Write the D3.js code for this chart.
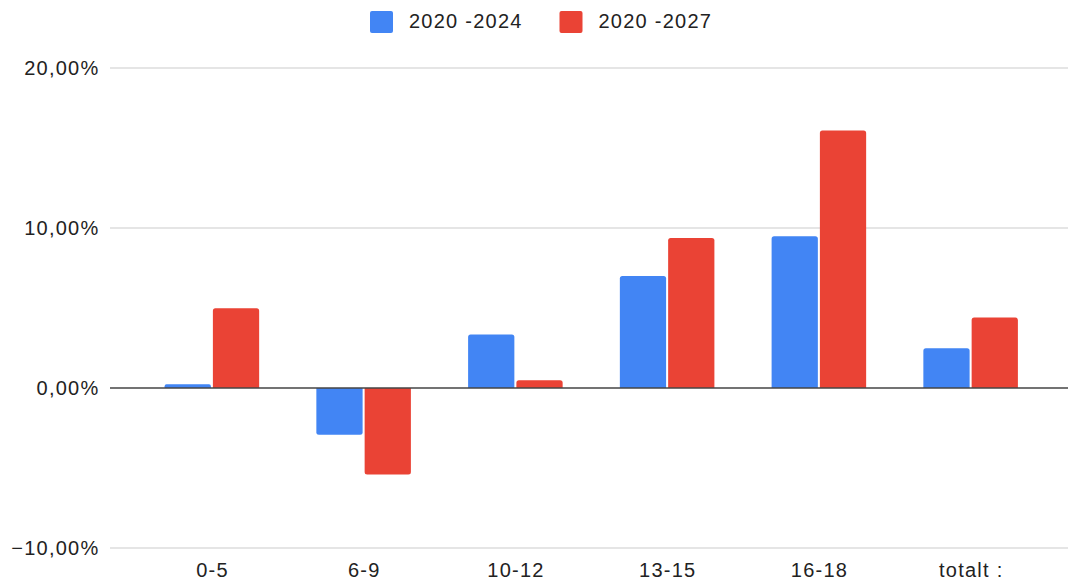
<!DOCTYPE html>
<html>
<head>
<meta charset="utf-8">
<script src="https://cdn.jsdelivr.net/npm/d3@7"></script>
<style>
  html, body { margin: 0; padding: 0; background: #fff; }
  svg { display: block; font-family: "Liberation Sans", Arial, sans-serif; }
  svg text { letter-spacing: 1.25px; }
</style>
</head>
<body>
<svg id="chart" width="1068" height="582"></svg>
<script>
// Age groups and percentage change per period
const categories = ["0-5", "6-9", "10-12", "13-15", "16-18", "totalt :"];
const seriesNames = ["2020 -2024", "2020 -2027"];
const change2024 = [0.0023, -0.0292, 0.0335, 0.0700, 0.0948, 0.0248];
const change2027 = [0.0498, -0.0540, 0.0048, 0.09375, 0.1610, 0.0440];
const yTicks = [-0.10, 0, 0.10, 0.20];
const colors = ["#4285F4", "#EA4335"];

const svg = d3.select("#chart");

const locale = d3.formatLocale({
  decimal: ",", thousands: " ", grouping: [3],
  currency: ["", " kr"], minus: "\u2212", percent: "%"
});
const pct = locale.format(".2%");

const gridLeft = 110, gridRight = 1068;

const y = d3.scaleLinear().domain([-0.10, 0.20]).range([548, 68]);

const x0 = d3.scaleBand()
  .domain(categories)
  .range([136, 1046.5])
  .paddingInner(0.377)
  .paddingOuter(0.1885);

const x1 = d3.scaleBand()
  .domain(seriesNames)
  .range([0, x0.bandwidth()])
  .paddingInner(0.042);

// Horizontal gridlines
svg.append("g")
  .selectAll("line")
  .data(yTicks.filter(d => d !== 0))
  .join("line")
  .attr("x1", gridLeft).attr("x2", gridRight)
  .attr("y1", d => y(d)).attr("y2", d => y(d))
  .attr("stroke", "#cccccc").attr("stroke-width", 1.2);

// Y tick labels
svg.append("g")
  .selectAll("text")
  .data(yTicks)
  .join("text")
  .attr("x", 99.5)
  .attr("y", d => y(d))
  .attr("dy", "0.36em")
  .attr("text-anchor", "end")
  .attr("font-size", 20)
  .attr("fill", "#222")
  .text(d => pct(d));

// Bar path with the outer end rounded
function barPath(x, w, v) {
  const y0 = y(0), y1 = y(v);
  const r = Math.min(2.5, Math.abs(y1 - y0) / 2, w / 2);
  if (v >= 0) {
    return `M${x},${y0}V${y1 + r}Q${x},${y1} ${x + r},${y1}H${x + w - r}Q${x + w},${y1} ${x + w},${y1 + r}V${y0}Z`;
  }
  return `M${x},${y0}V${y1 - r}Q${x},${y1} ${x + r},${y1}H${x + w - r}Q${x + w},${y1} ${x + w},${y1 - r}V${y0}Z`;
}

const rows = categories.map((c, i) => ({
  cat: c,
  vals: [
    { s: seriesNames[0], v: change2024[i], c: colors[0] },
    { s: seriesNames[1], v: change2027[i], c: colors[1] }
  ]
}));

svg.append("g")
  .selectAll("g")
  .data(rows)
  .join("g")
  .attr("transform", d => `translate(${x0(d.cat)},0)`)
  .selectAll("path")
  .data(d => d.vals)
  .join("path")
  .attr("d", d => barPath(x1(d.s), x1.bandwidth(), d.v))
  .attr("fill", d => d.c);

// Zero baseline
svg.append("line")
  .attr("x1", gridLeft).attr("x2", gridRight)
  .attr("y1", y(0)).attr("y2", y(0))
  .attr("stroke", "#444").attr("stroke-width", 1.6);

// Category labels
svg.append("g")
  .selectAll("text")
  .data(categories)
  .join("text")
  .attr("x", d => x0(d) + x0.bandwidth() / 2 + 0.6)
  .attr("y", 577)
  .attr("text-anchor", "middle")
  .attr("font-size", 20)
  .attr("fill", "#222")
  .text(d => d);

// Legend
const legendX = [370, 559.5];
const legend = svg.append("g")
  .selectAll("g")
  .data(seriesNames)
  .join("g")
  .attr("transform", (d, i) => `translate(${legendX[i]},11)`);
legend.append("rect")
  .attr("width", 23).attr("height", 22).attr("rx", 2)
  .attr("fill", (d, i) => colors[i]);
legend.append("text")
  .attr("x", 39).attr("y", 17)
  .attr("font-size", 20)
  .attr("fill", "#222")
  .text(d => d);
</script>
</body>
</html>
